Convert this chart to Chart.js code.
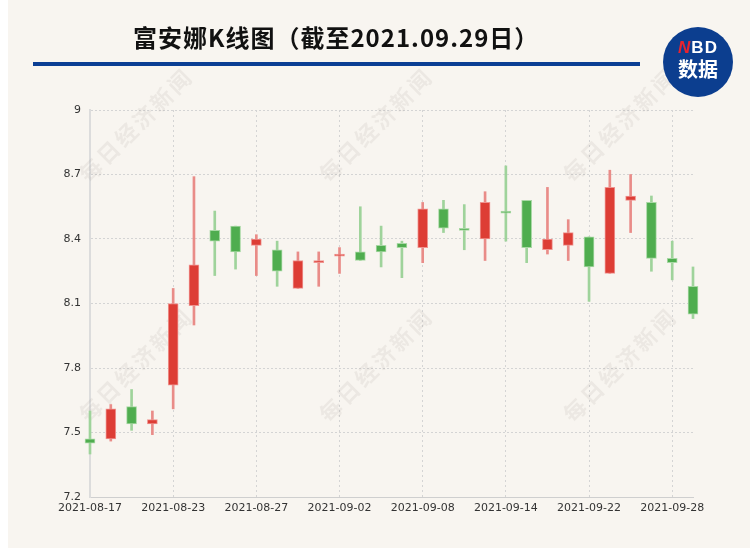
<!DOCTYPE html>
<html>
<head>
<meta charset="utf-8">
<script src="https://cdn.jsdelivr.net/npm/chart.js@4/dist/chart.umd.min.js"></script>
<style>
  body { margin: 0; background: #fff; width: 750px; height: 550px; overflow: hidden; position: relative; }
  #paper { position: absolute; left: 8px; top: 0; width: 742px; height: 548px; background: #f8f5f0; }
  #c { position: absolute; left: 0; top: 0; }
  .title { position: absolute; left: 133px; top: 25px; font: bold 24px/24px "Noto Sans CJK SC", sans-serif; letter-spacing: 1px; color: #111; white-space: nowrap; }
  .rule { position: absolute; left: 33px; top: 62px; width: 607px; height: 4px; background: #0b3f94; }
  .logo { position: absolute; left: 663px; top: 27px; width: 70px; height: 70px; border-radius: 50%; background: #0c3e8f; text-align: center; color: #fff; font-family: "Noto Sans CJK SC", sans-serif; font-weight: bold; }
  .logo .nbd { position: absolute; left: 0; width: 70px; top: 12px; font: bold 17px/17px "Liberation Sans", Arial, sans-serif; letter-spacing: 1px; }
  .logo .nbd i { color: #e8232f; }
  .logo .sj { position: absolute; left: 0; width: 70px; top: 31px; font: bold 20px/22px "Noto Sans CJK SC", sans-serif; }
</style>
</head>
<body>
<div id="paper"></div>
<canvas id="c" width="750" height="550"></canvas>
<div class="title">富安娜K线图（截至2021.09.29日）</div>
<div class="rule"></div>
<div class="logo"><div class="nbd"><i>N</i>BD</div><div class="sj">数据</div></div>
<script>
// data
var dates = ['2021-08-17','2021-08-18','2021-08-19','2021-08-20','2021-08-23','2021-08-24','2021-08-25','2021-08-26','2021-08-27','2021-08-30',
             '2021-08-31','2021-09-01','2021-09-02','2021-09-03','2021-09-06','2021-09-07','2021-09-08','2021-09-09','2021-09-10','2021-09-13',
             '2021-09-14','2021-09-15','2021-09-16','2021-09-17','2021-09-22','2021-09-23','2021-09-24','2021-09-27','2021-09-28','2021-09-29'];
var openP  = [7.47, 7.47, 7.62, 7.54, 7.72, 8.09, 8.44, 8.46, 8.37, 8.35, 8.17, 8.29, 8.32, 8.34, 8.37, 8.38, 8.36, 8.54, 8.45, 8.40, 8.53, 8.58, 8.35, 8.37, 8.41, 8.24, 8.58, 8.57, 8.31, 8.18];
var closeP = [7.45, 7.61, 7.54, 7.56, 8.10, 8.28, 8.39, 8.34, 8.40, 8.25, 8.30, 8.30, 8.33, 8.30, 8.34, 8.36, 8.54, 8.45, 8.44, 8.57, 8.52, 8.36, 8.40, 8.43, 8.27, 8.64, 8.60, 8.31, 8.29, 8.05];
var lowP   = [7.40, 7.46, 7.51, 7.49, 7.61, 8.00, 8.23, 8.26, 8.23, 8.18, 8.17, 8.18, 8.24, 8.30, 8.27, 8.22, 8.29, 8.43, 8.35, 8.30, 8.39, 8.29, 8.33, 8.30, 8.11, 8.24, 8.43, 8.25, 8.21, 8.03];
var highP  = [7.60, 7.63, 7.70, 7.60, 8.17, 8.69, 8.53, 8.46, 8.42, 8.39, 8.34, 8.34, 8.36, 8.55, 8.46, 8.39, 8.57, 8.58, 8.56, 8.62, 8.74, 8.58, 8.64, 8.49, 8.41, 8.72, 8.70, 8.60, 8.39, 8.27];
var yTicks = [7.2, 7.5, 7.8, 8.1, 8.4, 8.7, 9];

var RED = '#dd3d35', GREEN = '#4fad4f';
function isUp(i) { return closeP[i] >= openP[i]; }

var bodies = dates.map(function(d, i) { return [openP[i], closeP[i]]; });
var wicks = dates.map(function(d, i) { return [lowP[i], highP[i]]; });

// faint rotated watermark, under the candles
var watermark = {
  id: 'watermark',
  beforeDatasetsDraw: function(chart) {
    var ctx = chart.ctx;
    var spots = [[136,125],[136,365],[376,125],[376,365],[620,125],[620,365]];
    ctx.save();
    ctx.font = 'bold 22px "Noto Sans CJK SC"';
    ctx.fillStyle = 'rgba(120,110,100,0.09)';
    ctx.textAlign = 'center';
    ctx.textBaseline = 'middle';
    spots.forEach(function(p) {
      ctx.save();
      ctx.translate(p[0], p[1]);
      ctx.rotate(-Math.PI / 4);
      ctx.letterSpacing = '3px';
      ctx.fillText('每日经济新闻', 0, 0);
      ctx.restore();
    });
    ctx.restore();
  }
};

new Chart(document.getElementById('c'), {
  type: 'bar',
  data: {
    labels: dates,
    datasets: [{
      label: 'body',
      data: bodies,
      grouped: false,
      barThickness: 10,
      clip: false,
      borderWidth: 1,
      borderSkipped: false,
      backgroundColor: dates.map(function(d, i) { return isUp(i) ? RED : GREEN; }),
      borderColor: dates.map(function(d, i) { return isUp(i) ? '#ef9490' : '#a8d8a4'; }),
      order: 1
    }, {
      label: 'wick',
      data: wicks,
      grouped: false,
      barThickness: 2,
      clip: false,
      borderWidth: 0,
      backgroundColor: dates.map(function(d, i) { return isUp(i) ? '#e98c88' : '#9fd39b'; }),
      order: 2
    }]
  },
  options: {
    responsive: false,
    animation: false,
    layout: { padding: { left: 0, right: 57, top: 110, bottom: 0 } },
    plugins: { legend: { display: false }, tooltip: { enabled: false } },
    scales: {
      x: {
        offset: false,
        grid: {
          offset: false,
          drawTicks: false,
          color: '#d4d4d4',
          lineWidth: 1
        },
        border: { display: true, color: '#cfcfcf', width: 1, dash: [2, 3] },
        ticks: {
          autoSkip: false,
          maxRotation: 0,
          padding: 5,
          color: '#333',
          font: { family: '"DejaVu Sans"', size: 11 },
          callback: function(v, i) { return i % 4 === 0 ? this.getLabelForValue(v) : null; }
        },
        afterFit: function(s) { s.height = 53; }
      },
      y: {
        min: yTicks[0],
        max: yTicks[yTicks.length - 1],
        afterBuildTicks: function(s) { s.ticks = yTicks.map(function(v) { return { value: v }; }); },
        grid: { drawTicks: false, color: '#d4d4d4', lineWidth: 1 },
        border: { display: true, color: '#dcdcdc', width: 2, dash: [2, 2] },
        ticks: {
          padding: 9,
          color: '#333',
          font: { family: '"DejaVu Sans"', size: 11 },
          callback: function(v) { return String(+v.toFixed(1)); }
        },
        afterFit: function(s) { s.width = 90; }
      }
    }
  },
  plugins: [watermark]
});
</script>
</body>
</html>
